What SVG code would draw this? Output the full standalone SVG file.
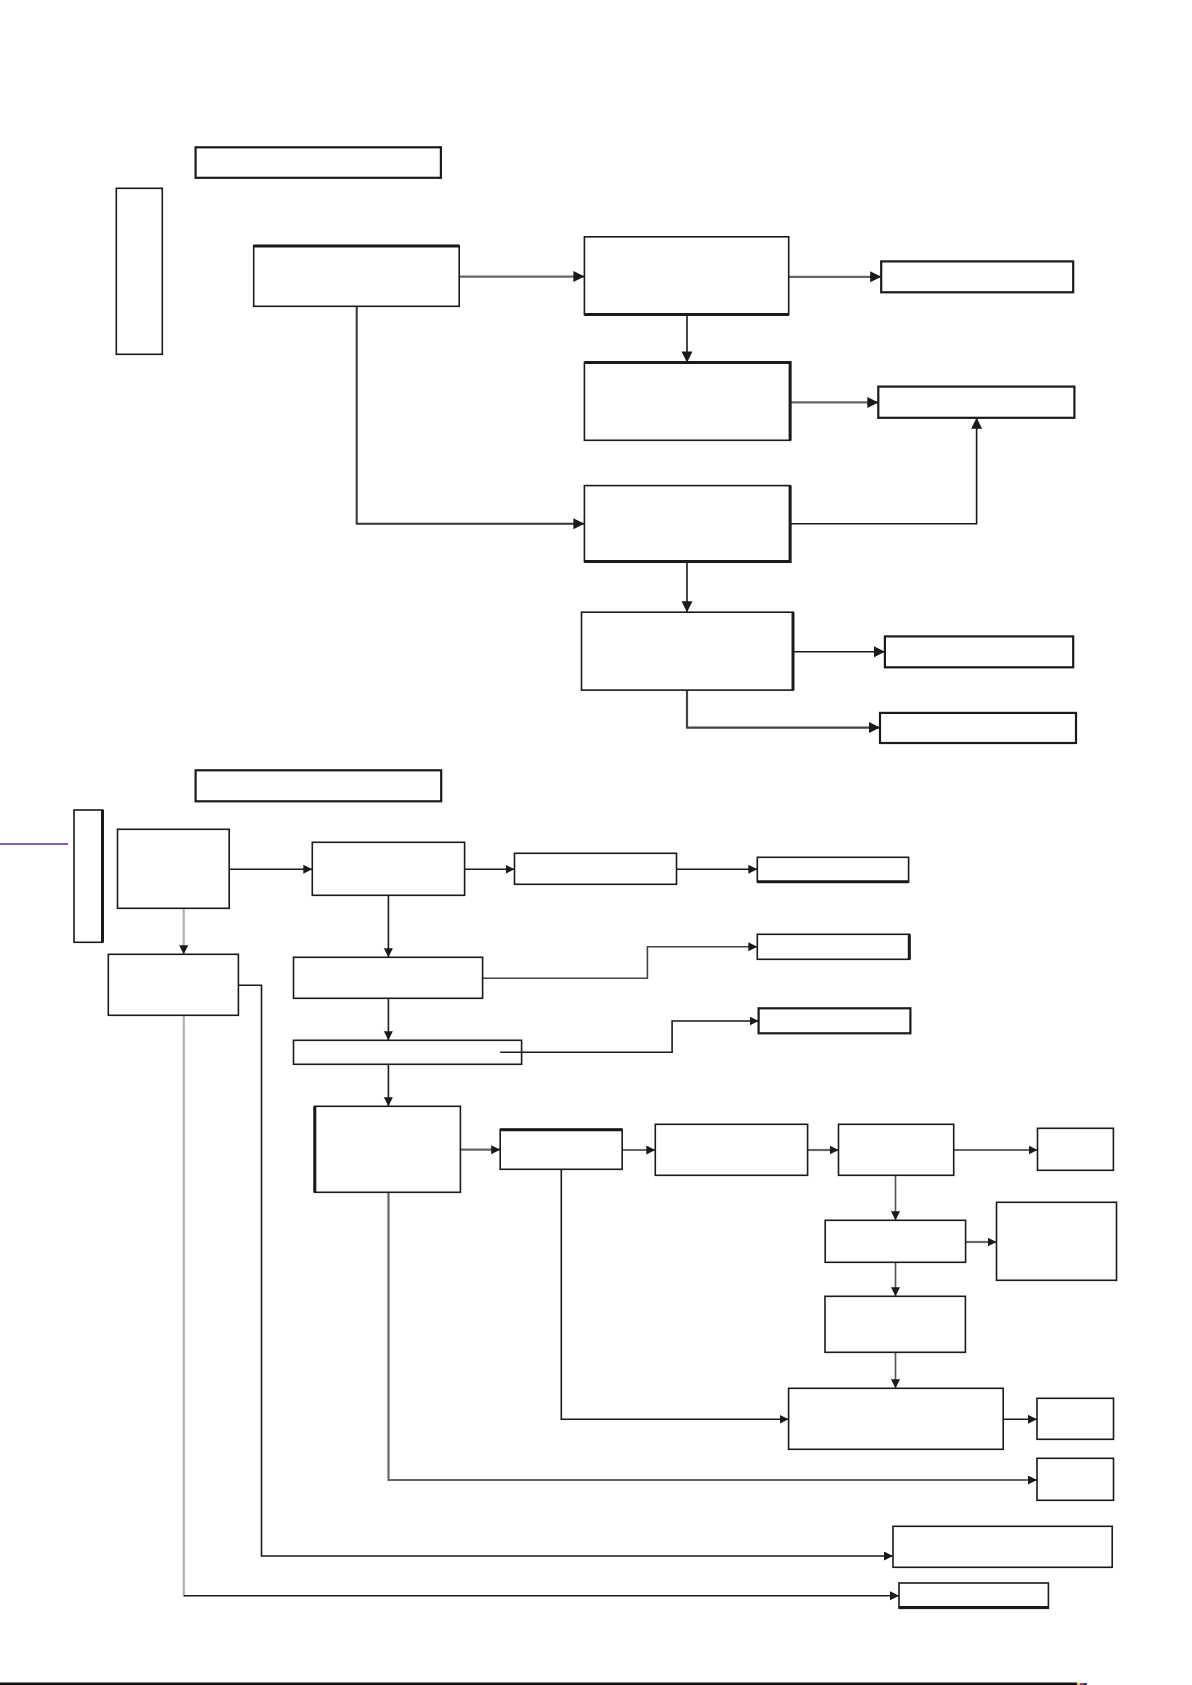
<svg xmlns="http://www.w3.org/2000/svg" width="1192" height="1685" viewBox="0 0 1192 1685">
<style>
.b{fill:#fff;stroke:#1a1a1a;stroke-width:1.6}
.bt{fill:#fff;stroke:#1a1a1a;stroke-width:2.2}
.th{stroke:#1a1a1a;stroke-width:3;fill:none}
.c{fill:none;stroke:#1a1a1a;stroke-width:1.6}
.cg{fill:none;stroke:#666;stroke-width:2.2}
.cl{fill:none;stroke:#b0b0b0;stroke-width:2.2}
.L{marker-end:url(#a1)}
.S{marker-end:url(#a2)}
</style>
<defs>
<marker id="a1" markerUnits="userSpaceOnUse" markerWidth="12" markerHeight="12" refX="11" refY="5.5" orient="auto"><path d="M0,0 L11,5.5 L0,11 z" fill="#1a1a1a"/></marker>
<marker id="a2" markerUnits="userSpaceOnUse" markerWidth="10" markerHeight="10" refX="9" refY="4.5" orient="auto"><path d="M0,0 L9,4.5 L0,9 z" fill="#1a1a1a"/></marker>
</defs>
<rect width="1192" height="1685" fill="#fff"/>
<g id="connectors">
<path class="cg L" d="M459.2,276.6 H584.4"/>
<path class="cg L" d="M788.7,276.8 H881.2"/>
<path class="c L" d="M687,314.7 V362.4"/>
<path class="cg L" d="M790.3,402.4 H878.3"/>
<path class="c L" d="M356.7,306.3 V523.8 H584.4" style="stroke:#333;stroke-width:2"/>
<path class="c L" d="M790.3,523.8 H976.6 V417.8"/>
<path class="c L" d="M687,561.7 V612.2"/>
<path class="c L" d="M793.2,651.8 H884.9"/>
<path class="cg L" d="M687,690.1 V727.6 H880" style="stroke:#444"/>
<path d="M0,844 H68" fill="none" stroke="#5b2d91" stroke-width="1.5"/>
<path class="c S" d="M229.2,869.3 H312.3"/>
<path class="c S" d="M464.6,869.3 H514.5"/>
<path class="c S" d="M676.5,869.3 H757.3"/>
<path class="cl S" d="M183.7,908.3 V954.3"/>
<path class="c S" d="M388.4,895.3 V957.3"/>
<path class="c S" d="M482.6,978.3 H647.4 V946.7 H757.3" style="stroke:#444"/>
<path class="c S" d="M388.4,998.3 V1040.3"/>
<path class="c S" d="M500.2,1052.3 H672.1 V1021 H758.6"/>
<path class="c S" d="M388.4,1064.3 V1106.3"/>
<path class="cg S" d="M460.4,1149.7 H500.2"/>
<path class="cg S" d="M622.2,1150 H655.3"/>
<path class="cg S" d="M807.6,1150 H838.5"/>
<path class="cg S" d="M953.7,1150 H1037.5"/>
<path class="c S" d="M895.5,1175.3 V1220.3" style="stroke:#555"/>
<path class="cg S" d="M965.6,1242 H996.5"/>
<path class="c S" d="M895.5,1262.3 V1296.3" style="stroke:#555"/>
<path class="c S" d="M895.5,1352.3 V1388.3" style="stroke:#555"/>
<path class="c S" d="M561.3,1169.3 V1419.3 H788.6"/>
<path class="c S" d="M1003.2,1419.3 H1037"/>
<path class="cg S" d="M388.5,1192.3 V1480 H1037"/>
<path class="c S" d="M238.4,985.3 H261.5 V1556 H893"/>
<path class="cl" d="M183.8,1015.3 V1596.5"/>
<path class="c S" d="M183.8,1595.7 H899"/>
</g>
<g id="n_title1"><rect class="bt" x="195.6" y="147.3" width="245.3" height="30.5"/></g>
<g id="n_side1"><rect class="b" x="116.3" y="188.3" width="46" height="166"/></g>
<g id="n_B"><rect class="b" x="253.7" y="245.7" width="205.5" height="60.6"/><path class="th" d="M253.7,245.9 H459.2"/></g>
<g id="n_C"><rect class="b" x="584.4" y="236.8" width="204.3" height="77.9"/><path class="th" d="M584.4,314.5 H788.7"/></g>
<g id="n_D"><rect class="bt" x="881.2" y="261.4" width="192" height="30.9"/></g>
<g id="n_E"><rect class="b" x="584.4" y="362.4" width="205.9" height="77.9"/><path class="th" d="M584.4,362.6 H790.1 V440.3"/></g>
<g id="n_F"><rect class="bt" x="878.3" y="386.6" width="196.1" height="31.2"/></g>
<g id="n_G"><rect class="b" x="584.4" y="485.6" width="205.9" height="76.1"/><path class="th" d="M790.1,485.6 V561.5 H584.4"/></g>
<g id="n_H"><rect class="b" x="581.5" y="612.2" width="211.7" height="77.9"/><path class="th" d="M793,612.2 V690.1"/></g>
<g id="n_I"><rect class="bt" x="884.9" y="636.4" width="188.3" height="30.9"/></g>
<g id="n_J"><rect class="bt" x="880" y="712.9" width="196" height="30.1"/></g>
<g id="n_title2"><rect class="bt" x="195.6" y="770.3" width="245.6" height="31"/></g>
<g id="n_side2"><rect class="b" x="74" y="810" width="28.7" height="132.3"/><path class="th" d="M102.5,810 V942.3"/></g>
<g id="n_K"><rect class="b" x="117.5" y="829.3" width="111.7" height="79"/></g>
<g id="n_L"><rect class="b" x="312.3" y="842.3" width="152.3" height="53"/></g>
<g id="n_M"><rect class="b" x="514.5" y="853.3" width="162" height="31"/></g>
<g id="n_N"><rect class="b" x="757.3" y="857.3" width="151.3" height="24.7"/><path class="th" d="M757.3,881.8 H908.6"/></g>
<g id="n_O"><rect class="b" x="108.3" y="954.3" width="130.1" height="61"/></g>
<g id="n_P"><rect class="b" x="293.5" y="957.3" width="189.1" height="41"/></g>
<g id="n_Q"><rect class="b" x="757.3" y="934.3" width="152.2" height="25"/><path class="th" d="M909.3,934.3 V959.3"/></g>
<g id="n_R"><rect class="b" x="293.5" y="1040.3" width="228.1" height="24" fill="none" style="fill:none"/></g>
<g id="n_S"><rect class="bt" x="758.6" y="1008.3" width="151.8" height="25"/></g>
<g id="n_T"><rect class="b" x="314.6" y="1106.3" width="145.8" height="86"/><path class="th" d="M314.8,1106.3 V1192.3"/></g>
<g id="n_U"><rect class="b" x="500.2" y="1129.5" width="122" height="39.8"/><path class="th" d="M500.2,1129.7 H622.2"/></g>
<g id="n_V"><rect class="b" x="655.3" y="1124.3" width="152.3" height="51"/></g>
<g id="n_W"><rect class="b" x="838.5" y="1124.3" width="115.2" height="51"/></g>
<g id="n_X"><rect class="b" x="1037.5" y="1128.3" width="75.9" height="42"/></g>
<g id="n_Y"><rect class="b" x="825.2" y="1220.3" width="140.4" height="42"/></g>
<g id="n_Z"><rect class="b" x="996.5" y="1202.3" width="120" height="78"/></g>
<g id="n_AA"><rect class="b" x="825" y="1296.3" width="140.4" height="56"/></g>
<g id="n_AB"><rect class="b" x="788.6" y="1388.3" width="214.6" height="61"/></g>
<g id="n_AC"><rect class="b" x="1037" y="1398.3" width="76.5" height="41"/></g>
<g id="n_AD"><rect class="b" x="1037" y="1458.3" width="76.5" height="42"/></g>
<g id="n_AE"><rect class="b" x="893" y="1526.3" width="219.2" height="41"/></g>
<g id="n_AF"><rect class="b" x="899" y="1583" width="149.4" height="25.3"/><path class="th" d="M899,1607.6 H1048.4"/></g>
<g id="rule">
<path d="M0,1683.8 H1077" stroke="#111" stroke-width="2.4" fill="none"/>
<rect x="1077" y="1683" width="3" height="2" fill="#e6d200"/>
<rect x="1080" y="1683" width="3" height="2" fill="#c03080"/>
<rect x="1083" y="1683" width="4" height="2" fill="#304090"/>
</g>
</svg>
